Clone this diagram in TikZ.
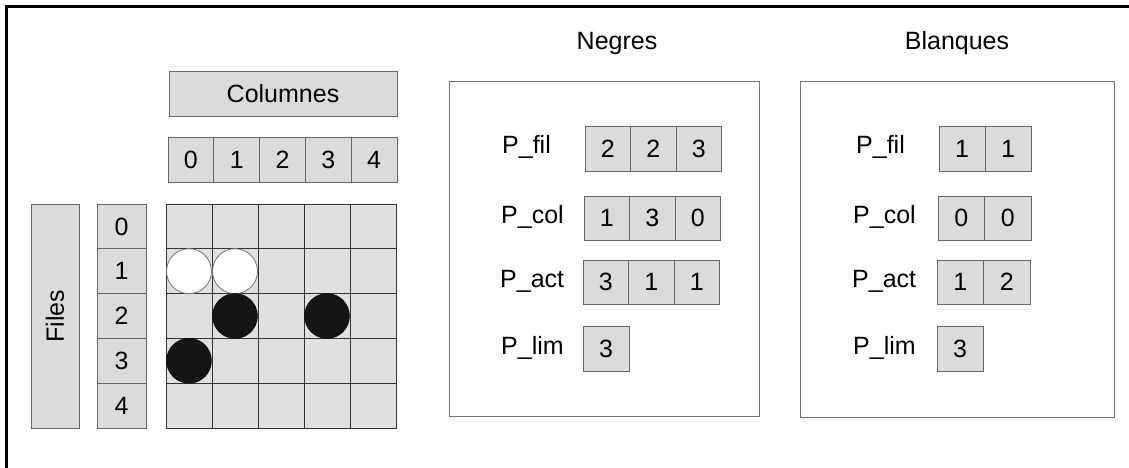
\documentclass[tikz,border=0pt]{standalone}
\usepackage{fontspec}
\setmainfont{Liberation Sans}
\begin{document}
\begin{tikzpicture}[x=1pt,y=-1pt,
  txt/.style={inner sep=0pt, font=\fontsize{25}{29}\selectfont},
  cell/.style={draw=black!60, fill=black!14, inner sep=0pt, line width=0.8pt, font=\fontsize{25}{29}\selectfont},
  gridcell/.style={draw=black!80, fill=black!12, inner sep=0pt, line width=1pt, minimum width=46pt, minimum height=44.8pt},
  panel/.style={draw=black!55, line width=0.8pt, inner sep=0pt},
  blackstone/.style={circle, fill=black!92, draw=black, inner sep=0pt, minimum size=45pt},
  whitestone/.style={circle, fill=white, draw=black!55, line width=0.8pt, inner sep=0pt, minimum size=45pt}]
\useasboundingbox (0,0) rectangle (1129,468);
\draw[line width=3pt] (6,468) -- (6,7) -- (1129,7);

% Columns header
\node[cell, minimum width=228pt, minimum height=45pt] (colhdr) at (283,93.5) {Columnes};
\foreach \i in {0,...,4}
  \node[cell, minimum width=45.8pt, minimum height=45pt] (c\i) at ({168+45.8*\i+22.9},159.5) {\i};

% Grid
\foreach \r in {0,...,4}
  \foreach \c in {0,...,4}
    \node[gridcell] (g\r\c) at ({166+46*\c+23},{204+44.8*\r+22.4}) {};

% Rows header
\node[cell, rotate=90, minimum width=224pt, minimum height=48pt] (files) at (55,316) {Files};
\foreach \r in {0,...,4}
  \node[cell, minimum width=49pt, minimum height=44.8pt] (r\r) at (121.5,{204+44.8*\r+22.4}) {\r};

% Stones
\node[whitestone] (w1) at (g10) {};
\node[whitestone] (w2) at (g11) {};
\node[blackstone] (b1) at (g21) {};
\node[blackstone] (b2) at (g23) {};
\node[blackstone] (b3) at (g30) {};

% Negres panel
\node[txt] (negtitle) at (617,43) {Negres};
\node[panel, minimum width=310pt, minimum height=335pt] (negbox) at (604,248.5) {};
\node[txt, anchor=west] (nfil) at (502,147) {P\_fil};
\node[txt, anchor=west] (ncol) at (501,217) {P\_col};
\node[txt, anchor=west] (nact) at (500,281) {P\_act};
\node[txt, anchor=west] (nlim) at (501,347.5) {P\_lim};
\foreach \v [count=\k from 0] in {2,2,3}
  \node[cell, minimum width=45.5pt, minimum height=45pt] (nf\k) at ({585+45.5*\k+22.75},148.5) {\v};
\foreach \v [count=\k from 0] in {1,3,0}
  \node[cell, minimum width=45.5pt, minimum height=44pt] (nc\k) at ({584+45.5*\k+22.75},218) {\v};
\foreach \v [count=\k from 0] in {3,1,1}
  \node[cell, minimum width=45.5pt, minimum height=44pt] (na\k) at ({583+45.5*\k+22.75},282) {\v};
\node[cell, minimum width=46pt, minimum height=45pt] (nl0) at (606,348.5) {3};

% Blanques panel
\node[txt] (blatitle) at (957,43) {Blanques};
\node[panel, minimum width=314pt, minimum height=336pt] (blabox) at (957,249) {};
\node[txt, anchor=west] (bfil) at (856,147) {P\_fil};
\node[txt, anchor=west] (bcol) at (853,217) {P\_col};
\node[txt, anchor=west] (bact) at (852,281) {P\_act};
\node[txt, anchor=west] (blim) at (853,347.5) {P\_lim};
\foreach \v [count=\k from 0] in {1,1}
  \node[cell, minimum width=46pt, minimum height=45pt] (bf\k) at ({939+46*\k+23},148.5) {\v};
\foreach \v [count=\k from 0] in {0,0}
  \node[cell, minimum width=46.5pt, minimum height=44pt] (bc\k) at ({938+46.5*\k+23.25},218) {\v};
\foreach \v [count=\k from 0] in {1,2}
  \node[cell, minimum width=46.5pt, minimum height=44pt] (ba\k) at ({937+46.5*\k+23.25},282) {\v};
\node[cell, minimum width=46pt, minimum height=45pt] (bl0) at (960,348.5) {3};
\end{tikzpicture}
\end{document}
